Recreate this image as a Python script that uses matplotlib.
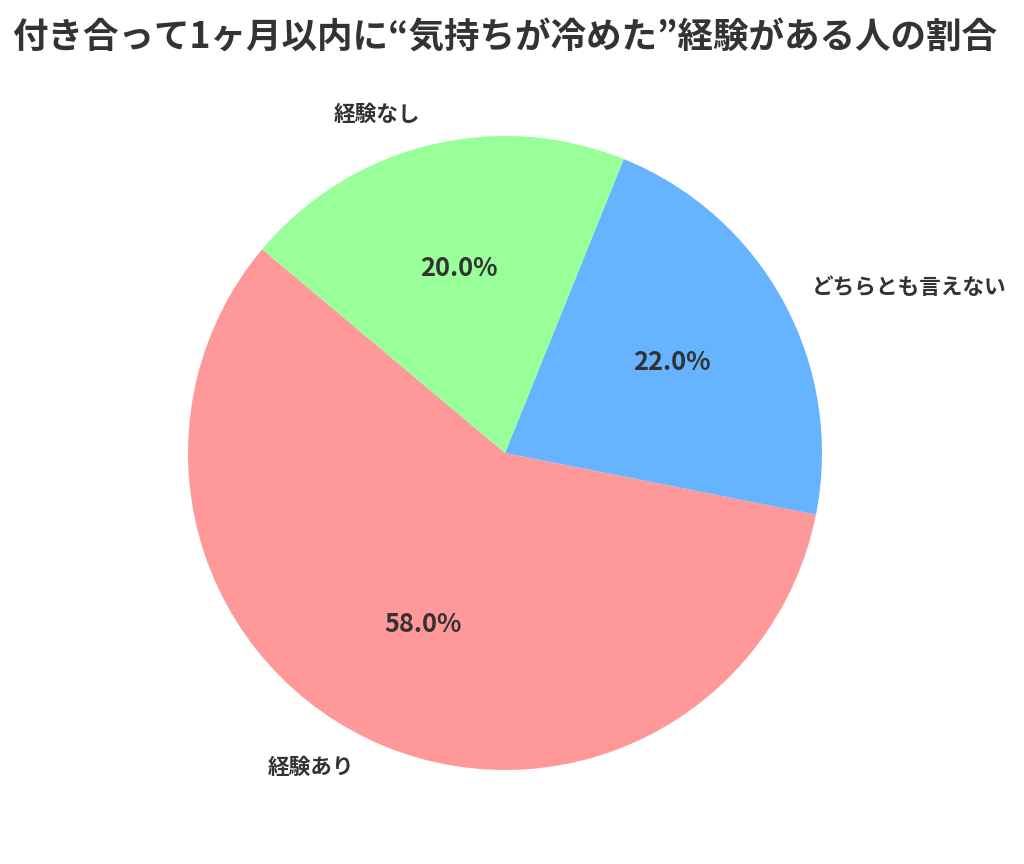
import matplotlib
matplotlib.use("Agg")
import matplotlib.pyplot as plt

plt.rcParams['font.family'] = ['Noto Sans CJK JP', 'DejaVu Sans']

title = "付き合って1ヶ月以内に“気持ちが冷めた”経験がある人の割合"
labels = ["経験あり", "どちらとも言えない", "経験なし"]
values = [58.0, 22.0, 20.0]
colors = ["#ff9999", "#66b3ff", "#99ff99"]

fig = plt.figure(figsize=(10.24, 8.64), dpi=100)
ax = fig.add_axes([188/1024, 94/864, 634/1024, 634/864])

wedges, texts, autotexts = ax.pie(
    values, labels=labels, colors=colors, autopct='%1.1f%%',
    startangle=140, pctdistance=0.6, labeldistance=1.1,
    textprops={'color': '#333333', 'fontweight': 'bold'})
for t in texts:
    t.set_fontsize(15.6)
for t in autotexts:
    t.set_fontsize(18.3)
ax.set_xlim(-1, 1)
ax.set_ylim(-1, 1)
ax.set_aspect('equal')

fig.text(505/1024, 1 - 38/864, title, ha='center', va='center',
         fontsize=25.6, fontweight='bold', color='#333333')

fig.savefig("out.png", dpi=100, facecolor='white')
